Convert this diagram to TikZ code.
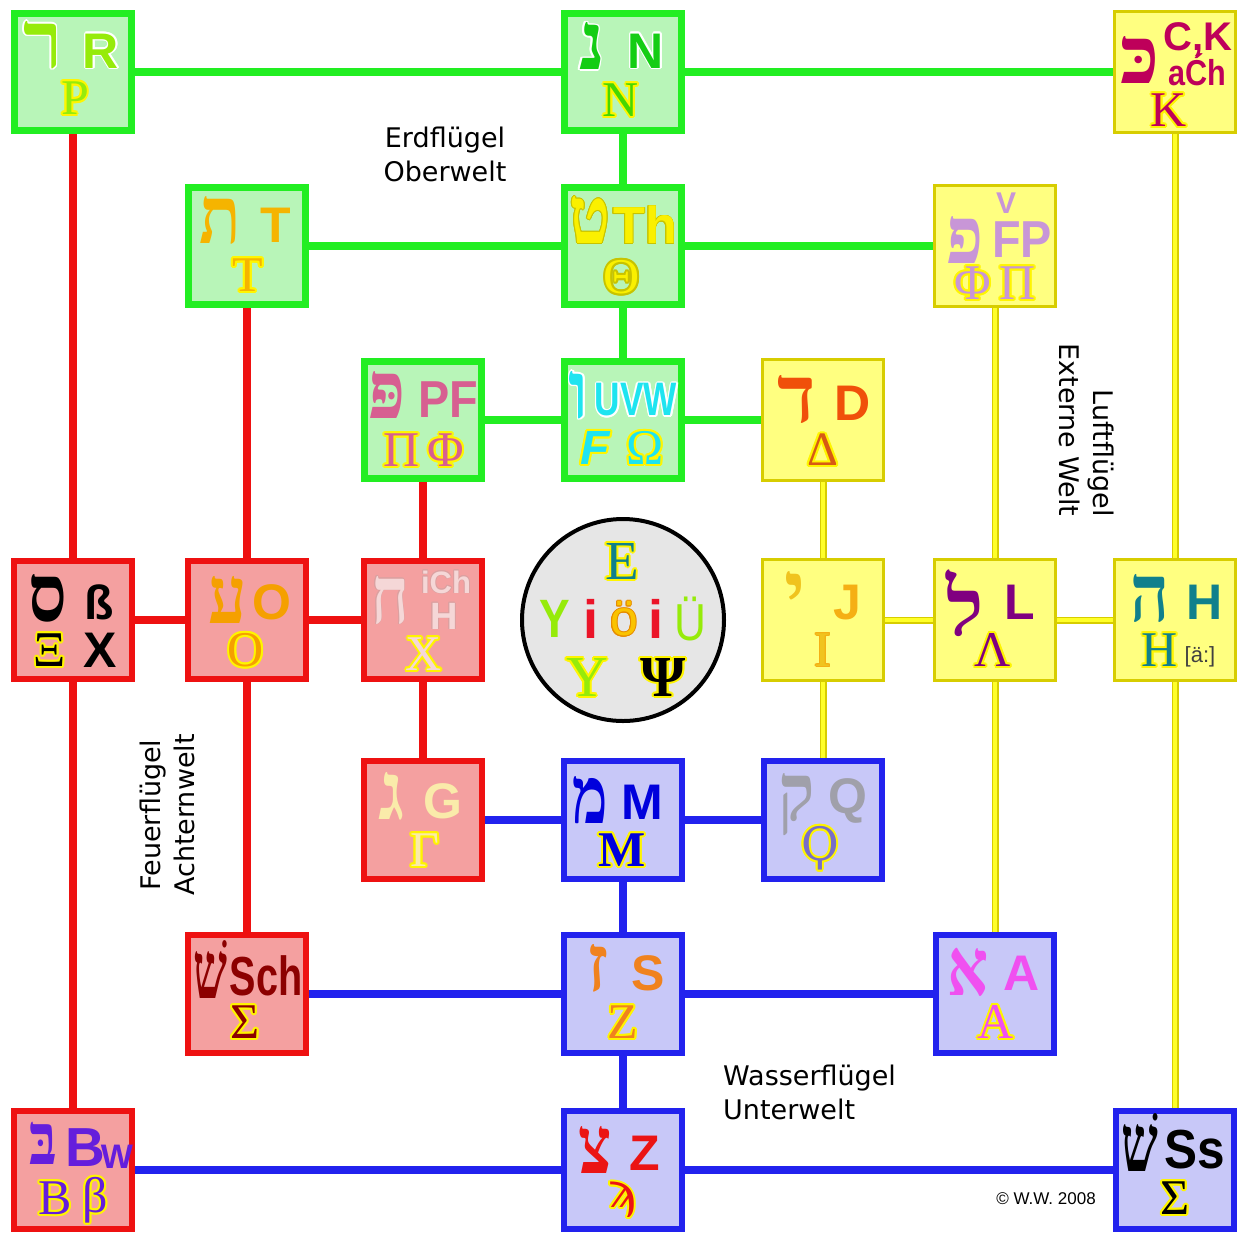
\documentclass[tikz,border=0pt]{standalone}
\usepackage{fontspec}
\usepackage{graphicx}
\setmainfont{DejaVu Sans}
\newfontfamily\heb[Script=Hebrew]{Liberation Serif}
\newfontfamily\lsans{Liberation Sans}
\newfontfamily\lserif{Liberation Serif}
\newfontfamily\dserif{DejaVu Serif}
\usetikzlibrary{calc}
\pgfdeclarelayer{background}
\pgfsetlayers{background,main}

\newcommand\fsz[1]{\fontsize{#1}{#1}\selectfont}
\newcommand\hx[1]{\heb\bfseries\fsz{#1}}
\newcommand\sx[1]{\lsans\bfseries\fsz{#1}}
\newcommand\rx[1]{\lserif\fsz{#1}}
\newcommand\dx[1]{\dserif\fsz{#1}}
\newcommand\hsc[2]{\scalebox{#1}[1]{#2}}

\newcommand\mytx[4]{\node[font=#3,text=#2,inner sep=0] at (#1) {#4};}
\newcommand\myotx[6][2]{%
  \foreach \ang in {0,30,...,330}{\node[font=#5,text=#3,inner sep=0] at ($(#2)+(\ang:#1)$) {#6};}%
  \node[font=#5,text=#4,inner sep=0] at (#2) {#6};}

\definecolor{grnB}{RGB}{34,238,34}
\definecolor{grnF}{RGB}{184,245,184}
\definecolor{redB}{RGB}{238,17,17}
\definecolor{redF}{RGB}{244,160,160}
\definecolor{bluB}{RGB}{34,34,238}
\definecolor{bluF}{RGB}{200,200,248}
\definecolor{yelB}{RGB}{215,205,0}
\definecolor{yelF}{RGB}{255,255,128}
\definecolor{yelL}{RGB}{255,255,40}
\definecolor{olY}{RGB}{255,245,0}
\definecolor{circF}{RGB}{230,230,230}
\definecolor{cLime}{RGB}{150,235,10}
\definecolor{cGreen}{RGB}{20,205,20}
\definecolor{cNu}{RGB}{70,215,0}
\definecolor{cCrim}{RGB}{190,0,90}
\definecolor{cOrT}{RGB}{245,180,0}
\definecolor{cYel}{RGB}{250,240,0}
\definecolor{cYelD}{RGB}{200,195,0}
\definecolor{cLil}{RGB}{200,150,215}
\definecolor{cPink}{RGB}{215,95,145}
\definecolor{cCyan}{RGB}{30,228,240}
\definecolor{cOrR}{RGB}{240,80,10}
\definecolor{cDel}{RGB}{215,90,20}
\definecolor{cOr}{RGB}{245,160,0}
\definecolor{cPale}{RGB}{245,215,215}
\definecolor{cPaleD}{RGB}{220,160,160}
\definecolor{cGold}{RGB}{240,195,30}
\definecolor{cGoldJ}{RGB}{245,175,20}
\definecolor{cPurp}{RGB}{128,0,128}
\definecolor{cTeal}{RGB}{16,128,140}
\definecolor{cCream}{RGB}{250,235,170}
\definecolor{cBlue}{RGB}{0,0,220}
\definecolor{cGray}{RGB}{160,160,170}
\definecolor{cKop}{RGB}{120,110,200}
\definecolor{cDRed}{RGB}{140,0,0}
\definecolor{cOrZ}{RGB}{240,130,30}
\definecolor{cMag}{RGB}{240,80,240}
\definecolor{cViol}{RGB}{100,30,220}
\definecolor{cRed}{RGB}{235,20,20}
\definecolor{cRedI}{RGB}{235,20,40}
\definecolor{cOrO}{RGB}{250,195,0}
\definecolor{cOrOD}{RGB}{230,140,0}

\tikzset{
  box/.style={rectangle,inner sep=0},
  gbox/.style={box,draw=grnB,fill=grnF,line width=7pt,minimum size=117pt},
  rbox/.style={box,draw=redB,fill=redF,line width=6pt,minimum size=118pt},
  bbox/.style={box,draw=bluB,fill=bluF,line width=6pt,minimum size=118pt},
  ybox/.style={box,draw=yelB,fill=yelF,line width=3pt,minimum size=121pt},
  gline/.style={draw=grnB,line width=8pt},
  rline/.style={draw=redB,line width=8pt},
  bline/.style={draw=bluB,line width=8pt},
  yline/.style={draw=yelB,line width=1.8pt,double=yelL,double distance=3.4pt},
  lab/.style={font={\fontsize{27}{34}\selectfont},inner sep=0,text=black}
}

\begin{document}
\begin{tikzpicture}[x=1pt,y=-1pt]
\useasboundingbox (0,0) rectangle (1242,1235);

% boxes
\node[gbox] (R) at (73,72) {};
\node[gbox] (N) at (623,72) {};
\node[ybox] (K) at (1175,72) {};
\node[gbox] (T) at (247,246) {};
\node[gbox] (Th) at (623,246) {};
\node[ybox] (FP) at (995,246) {};
\node[gbox] (PF) at (423,420) {};
\node[gbox] (UVW) at (623,420) {};
\node[ybox] (D) at (823,420) {};
\node[rbox] (Xi) at (73,620) {};
\node[rbox] (O) at (247,620) {};
\node[rbox] (Ch) at (423,620) {};
\node[circle,draw=black,line width=4pt,fill=circF,minimum size=202pt,inner sep=0] (C) at (623,620) {};
\node[ybox] (IJ) at (823,620) {};
\node[ybox] (L) at (995,620) {};
\node[ybox] (H) at (1175,620) {};
\node[rbox] (G) at (423,820) {};
\node[bbox] (M) at (623,820) {};
\node[bbox] (Q) at (823,820) {};
\node[rbox] (Sch) at (247,994) {};
\node[bbox] (SZ) at (623,994) {};
\node[bbox] (A) at (995,994) {};
\node[rbox] (Bw) at (73,1170) {};
\node[bbox] (Ts) at (623,1170) {};
\node[bbox] (Ss) at (1175,1170) {};

% connectors
\begin{pgfonlayer}{background}
\fill[white] (0,0) rectangle (1242,1235);
\foreach \a/\b in {R/N,N/K,N/Th,T/Th,Th/FP,Th/UVW,PF/UVW,UVW/D}
  \draw[gline] (\a.center) -- (\b.center);
\foreach \a/\b in {R/Xi,Xi/Bw,Xi/O,O/Ch,T/O,O/Sch,PF/Ch,Ch/G}
  \draw[rline] (\a.center) -- (\b.center);
\foreach \a/\b in {G/M,M/Q,M/SZ,Sch/SZ,SZ/A,SZ/Ts,Bw/Ts,Ts/Ss}
  \draw[bline] (\a.center) -- (\b.center);
\foreach \a/\b in {K/H,H/Ss,FP/L,L/A,D/IJ,IJ/Q,IJ/L,L/H}
  \draw[yline] (\a.center) -- (\b.center);
\end{pgfonlayer}

% R box
\myotx[1.5]{43,45}{white}{cLime}{\hx{80}}{ר}
\myotx[1.5]{101,51}{white}{cLime}{\sx{50}}{R}
\myotx{75,98}{olY}{cLime}{\rx{50}}{Ρ}
% N box
\myotx[1.5]{592,46}{white}{cGreen}{\hx{80}}{נ}
\myotx[1.5]{646,51}{white}{cGreen}{\sx{50}}{N}
\myotx{621,100}{olY}{cNu}{\rx{50}}{Ν}
% K box
\mytx{1140,60}{cCrim}{\hx{80}}{כּ}
\mytx{1198,40}{cCrim}{\sx{40}}{C,K}
\mytx{1197,70}{cCrim}{\sx{36}}{\hsc{0.85}{aĆh}}
\myotx{1169,110}{olY}{cCrim}{\rx{50}}{Κ}
% T box
\mytx{220,220}{cOrT}{\hx{80}}{\hsc{0.85}{ת}}
\mytx{276,225}{cOrT}{\sx{50}}{T}
\myotx{248,275}{olY}{cOrT}{\rx{50}}{Τ}
% Th box
\myotx[0.8]{590,220}{cYelD}{cYel}{\hx{80}}{\hsc{0.85}{ט}}
\myotx[0.8]{645,225}{cYelD}{cYel}{\sx{52}}{Th}
\myotx{622,277}{cYelD}{cYel}{\rx{50}}{Θ}
% FP box
\mytx{1006,203}{cLil}{\sx{30}}{V}
\mytx{965,240}{cLil}{\hx{80}}{\hsc{0.85}{פ}}
\mytx{1022,240}{cLil}{\sx{52}}{\hsc{0.9}{FP}}
\myotx{995,283}{olY}{cLil}{\rx{50}}{Φ\,Π}
% PF box
\mytx{387,395}{cPink}{\hx{80}}{\hsc{0.85}{פּ}}
\mytx{448,400}{cPink}{\sx{52}}{\hsc{0.9}{PF}}
\myotx{424,450}{olY}{cPink}{\rx{50}}{Π\,Φ}
% UVW box
\myotx[1.5]{579,395}{white}{cCyan}{\hx{80}}{ו}
\myotx[1.5]{636,400}{white}{cCyan}{\sx{47}}{\hsc{0.75}{UVW}}
\myotx{595,448}{olY}{cCyan}{\lsans\bfseries\itshape\fsz{48}}{F}
\myotx{645,448}{olY}{cCyan}{\rx{50}}{Ω}
% D box
\mytx{797,399}{cOrR}{\hx{80}}{ד}
\mytx{853,403}{cOrR}{\sx{50}}{D}
\myotx{823,450}{olY}{cDel}{\rx{48}}{Δ}
% Xi box
\mytx{48,598}{black}{\hx{80}}{\hsc{0.85}{ס}}
\mytx{99,602}{black}{\sx{48}}{ß}
\myotx{50,650}{olY}{black}{\rx{50}}{Ξ}
\mytx{100,650}{black}{\sx{50}}{X}
% O box
\mytx{228,600}{cOr}{\hx{80}}{\hsc{0.85}{ע}}
\mytx{272,602}{cOr}{\sx{50}}{O}
\myotx{246,650}{olY}{cOr}{\rx{50}}{Ο}
% Ch box
\myotx[0.8]{390,600}{cPaleD}{cPale}{\hx{80}}{\hsc{0.8}{ח}}
\myotx[0.8]{446,582}{cPaleD}{cPale}{\sx{31}}{iCh}
\myotx[0.8]{444,616}{cPaleD}{cPale}{\sx{38}}{H}
\myotx{424,654}{olY}{cPale}{\rx{50}}{Χ}
% circle
\myotx{622,561}{olY}{cTeal}{\rx{55}}{Ε}
\mytx{555,619}{cLime}{\sx{54}}{\hsc{0.85}{Y}}
\mytx{591,619}{cRedI}{\sx{54}}{i}
\myotx[1]{624,619}{cOrOD}{cOrO}{\lsans\fsz{50}}{ö}
\mytx{656,619}{cRedI}{\sx{54}}{i}
\mytx{690,619}{cLime}{\lsans\fsz{52}}{\hsc{0.85}{Ü}}
\myotx{587,677}{olY}{cLime}{\rx{58}}{Υ}
\myotx{663,677}{olY}{black}{\lserif\bfseries\fsz{58}}{Ψ}
% IJ box
\mytx{795,595}{cGold}{\hx{80}}{י}
\mytx{847,603}{cGoldJ}{\sx{50}}{J}
\myotx[1]{823,650}{cGoldJ}{cGold}{\rx{50}}{Ι}
% L box
\mytx{965,603}{cPurp}{\hx{80}}{ל}
\mytx{1020,602}{cPurp}{\sx{50}}{L}
\myotx{993,650}{olY}{cPurp}{\rx{50}}{Λ}
% H box
\mytx{1150,598}{cTeal}{\hx{80}}{\hsc{0.85}{ה}}
\mytx{1205,602}{cTeal}{\sx{50}}{H}
\myotx{1160,650}{olY}{cTeal}{\rx{50}}{Η}
\mytx{1200,657}{black!75}{\lsans\fsz{22}}{[ä:]}
% G box
\mytx{392,796}{cCream}{\hx{80}}{ג}
\mytx{443,801}{cCream}{\sx{50}}{G}
\myotx{425,850}{olY}{cCream}{\rx{50}}{Γ}
% M box
\mytx{590,800}{cBlue}{\hx{80}}{\hsc{0.75}{מ}}
\mytx{642,802}{cBlue}{\sx{50}}{M}
\myotx{622,850}{olY}{cBlue}{\lserif\bfseries\fsz{50}}{Μ}
% Q box
\mytx{797,805}{cGray}{\hx{80}}{\hsc{0.85}{ק}}
\mytx{848,801}{cGray}{\sx{50}}{Q}
\myotx{820,848}{olY}{cKop}{\dx{46}}{Ϙ}
% Sch box
\mytx{210,970}{cDRed}{\hx{80}}{\hsc{0.6}{שׁ}}
\mytx{266,976}{cDRed}{\sx{55}}{\hsc{0.72}{Sch}}
\myotx{245,1022}{olY}{cDRed}{\rx{50}}{Σ}
% SZ box
\mytx{598,968}{cOrZ}{\hx{80}}{ז}
\mytx{648,973}{cOrZ}{\sx{50}}{S}
\myotx{623,1022}{olY}{cOrZ}{\rx{50}}{Ζ}
% A box
\mytx{968,972}{cMag}{\hx{80}}{\hsc{0.8}{א}}
\mytx{1022,973}{cMag}{\sx{50}}{A}
\myotx{996,1022}{olY}{cMag}{\rx{50}}{Α}
% Bw box
\mytx{43,1143}{cViol}{\hx{72}}{\hsc{0.8}{בּ}}
\mytx{85,1148}{cViol}{\sx{55}}{B}
\mytx{117,1157}{cViol}{\sx{34}}{W}
\myotx{55,1198}{olY}{cViol}{\rx{50}}{Β}
\myotx{95,1200}{olY}{cViol}{\rx{50}}{β}
% Ts box
\mytx{595,1150}{cRed}{\hx{80}}{\hsc{0.8}{צ}}
\mytx{645,1153}{cRed}{\sx{50}}{Z}
\myotx{622,1200}{olY}{cRed}{\dx{48}}{ϡ}
% Ss box
\mytx{1140,1143}{black}{\hx{80}}{\hsc{0.65}{שׁ}}
\mytx{1195,1150}{black}{\sx{55}}{\hsc{0.9}{Ss}}
\myotx{1175,1198}{olY}{black}{\rx{50}}{Σ}

% labels
\node[lab,align=center] (erd) at (445,154) {Erdflügel\\Oberwelt};
\node[lab,align=center,rotate=90] (feu) at (167,815) {Feuerflügel\\Achternwelt};
\node[lab,align=right,rotate=-90] (luft) at (1087,430) {Luftflügel\\Externe Welt};
\node[lab,align=left,anchor=west] (was) at (723,1092) {Wasserflügel\\Unterwelt};
\node[font={\lsans\fsz{17}},inner sep=0] (copy) at (1046,1199) {© W.W. 2008};
\end{tikzpicture}
\end{document}
